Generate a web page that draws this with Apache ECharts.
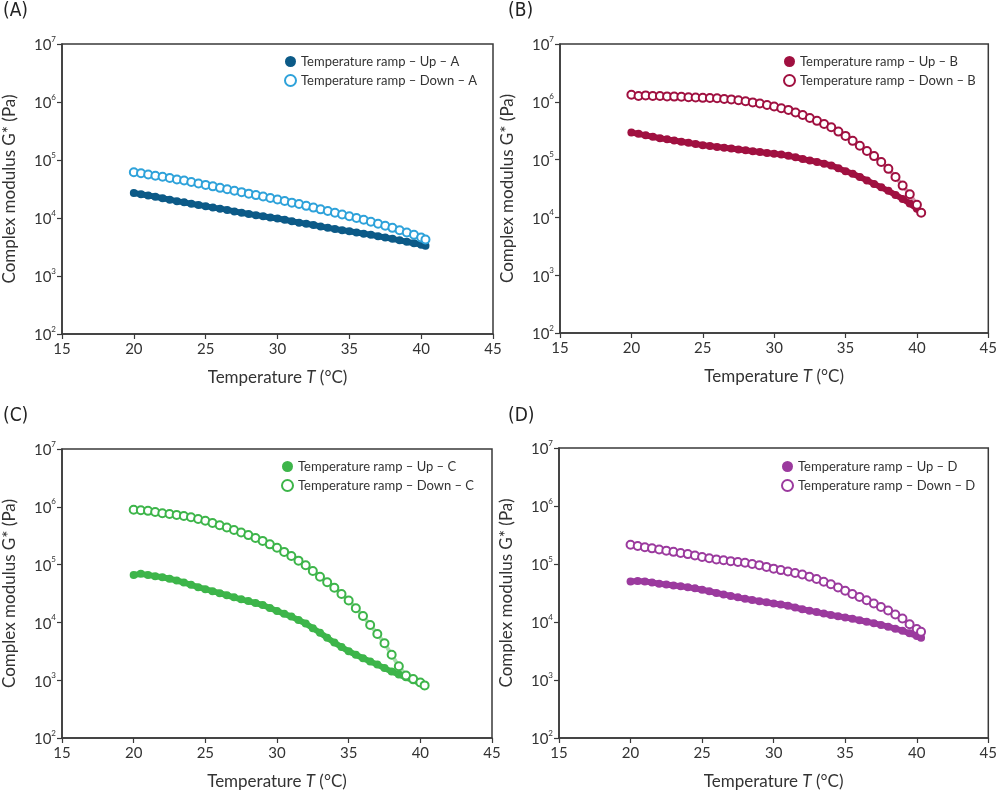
<!DOCTYPE html>
<html>
<head>
<meta charset="utf-8">
<script src="https://cdn.jsdelivr.net/npm/echarts@6/dist/echarts.min.js"></script>
<style>
html,body{margin:0;padding:0;background:#fff;}
#c{width:1000px;height:800px;}
</style>
</head>
<body>
<div id="c"></div>
<script>
// Temperature (°C), shared by all series
var temps = [20,20.5,21,21.5,22,22.5,23,23.5,24,24.5,25,25.5,26,26.5,27,27.5,28,28.5,29,29.5,30,30.5,31,31.5,32,32.5,33,33.5,34,34.5,35,35.5,36,36.5,37,37.5,38,38.5,39,39.5,40,40.3];

// Complex modulus G* (Pa)
var upA = [26900,25700,24500,23200,21900,20700,19500,18600,17600,16800,16000,15100,14500,13800,13000,12300,11700,11200,10700,10200,9800,9330,8810,8320,7940,7590,7160,6760,6460,6170,5890,5620,5370,5130,4840,4620,4370,4120,3890,3670,3470,3310];
var downA = [61700,58900,56200,53700,51300,49000,46200,44200,41700,39400,37200,35100,33100,31300,29500,27900,26300,24800,23400,22100,20900,19700,18400,17400,16200,15100,14100,13200,12300,11500,10700,10000,9330,8610,7940,7330,6760,6170,5620,5130,4620,4270];

var upB = [295000,279000,263000,248000,234000,224000,214000,204000,195000,186000,178000,172000,166000,160000,155000,150000,145000,140000,135000,130000,126000,122000,116000,110000,102000,96600,91200,85100,79400,70800,63100,56900,50100,43700,38000,33100,28800,24500,20900,17400,14100,12000];
var downB = [1320000,1260000,1290000,1260000,1260000,1240000,1230000,1220000,1200000,1190000,1170000,1160000,1150000,1120000,1100000,1060000,1020000,977000,933000,881000,832000,776000,724000,653000,589000,525000,468000,412000,363000,305000,257000,211000,174000,141000,115000,91200,69200,50100,35500,25100,16600,12000];

var upC = [66100,69200,66100,63100,60300,56900,53100,49000,44700,40700,37600,34700,32000,29500,27200,25100,23400,21600,20000,17800,15800,14100,12600,11000,9550,7940,6610,5430,4470,3760,3160,2750,2400,2110,1860,1620,1410,1260,1120,1000,891,794];
var downC = [891000,871000,851000,813000,776000,750000,724000,692000,661000,617000,575000,525000,479000,437000,398000,359000,324000,288000,257000,224000,195000,166000,141000,117000,97700,77600,61700,49500,39800,30900,24000,17600,12900,9020,6310,4370,2750,1740,1200,1050,912,813];

var upD = [50100,50700,50100,47900,45700,44200,42700,41200,39800,38000,35900,33900,31600,29900,28200,26600,25100,24000,22900,21900,20900,20000,19100,17800,16600,15700,14800,14000,13200,12600,12000,11400,10700,10100,9550,8910,8320,7670,7080,6380,5750,5370];
var downD = [214000,204000,195000,186000,178000,170000,162000,155000,148000,140000,132000,126000,120000,116000,112000,108000,105000,100000,95500,89100,83200,78500,74100,70000,66100,60300,55000,49500,44700,39400,34700,30500,26900,23700,20900,18200,15800,13500,11500,9120,7590,6760];

var panelLabels = ['(A)','(B)','(C)','(D)'];
var panelKeys = ['A','B','C','D'];
var upColors = ['#0c5a87','#a01040','#3db54a','#9b3a9e'];
var downColors = ['#2ea2da','#a01040','#3db54a','#9b3a9e'];
var upData = [upA, upB, upC, upD];
var downData = [downA, downB, downC, downD];
var xTicks = {min:15, max:45, interval:5};
var yRange = {min:100, max:10000000};

var FONT = 'Lato, "Open Sans", sans-serif';
var grids = [
  {left:60, top:44, width:433, height:290},
  {left:560, top:44, width:432, height:289},
  {left:60, top:449, width:432, height:289},
  {left:559, top:448, width:431, height:290}
];
var labelPos = [[3,2],[508,2],[3,407],[508,407]];
var legendPos = [[279,50],[778,50],[276,455],[776,455]];

var option = {
  animation:false,
  backgroundColor:'#fff',
  grid: grids.map(function(g){return Object.assign({show:true, borderColor:'#3a3a3a', borderWidth:1.5, containLabel:false}, g);}),
  xAxis: grids.map(function(g,i){return {
    gridIndex:i, type:'value', min:xTicks.min, max:xTicks.max, interval:xTicks.interval,
    axisLine:{show:true, onZero:false, lineStyle:{color:'#3a3a3a', width:1.5}},
    axisTick:{show:true, length:5, lineStyle:{color:'#3a3a3a', width:1.2}},
    splitLine:{show:false},
    axisLabel:{color:'#333', fontSize:15, fontFamily:FONT, margin:8},
    name:'Temperature {i|T} (°C)', nameLocation:'middle', nameGap:35,
    nameTextStyle:{color:'#333', fontSize:17, fontFamily:FONT, rich:{i:{fontStyle:'italic', fontSize:17, fontFamily:FONT, color:'#333'}}}
  };}),
  yAxis: grids.map(function(g,i){return {
    gridIndex:i, type:'log', logBase:10, min:yRange.min, max:yRange.max,
    axisLine:{show:true, lineStyle:{color:'#3a3a3a', width:1.5}},
    axisTick:{show:true, length:5, lineStyle:{color:'#3a3a3a', width:1.2}},
    minorTick:{show:false},
    splitLine:{show:false},
    axisLabel:{
      margin:6,
      formatter:function(v){var e=Math.round(Math.log(v)/Math.LN10); return '{b|10}{s|'+e+'}';},
      rich:{
        b:{fontSize:15, fontFamily:FONT, color:'#333', lineHeight:18, verticalAlign:'bottom'},
        s:{fontSize:8, fontFamily:FONT, color:'#333', verticalAlign:'top', lineHeight:18}
      }
    },
    name:'Complex modulus G* (Pa)', nameLocation:'middle', nameGap:44, nameRotate:90,
    nameTextStyle:{color:'#333', fontSize:17, fontFamily:FONT}
  };}),
  legend: panelKeys.map(function(k,i){return {
    orient:'vertical', left:legendPos[i][0], top:legendPos[i][1],
    itemWidth:11, itemHeight:11, itemGap:6,
    textStyle:{color:'#333', fontSize:13, fontFamily:FONT},
    data:[
      {name:'Temperature ramp – Up – '+k, icon:'circle'},
      {name:'Temperature ramp – Down – '+k, icon:'emptyCircle'}
    ]
  };}),
  graphic: panelLabels.map(function(t,i){return {
    type:'text', left:labelPos[i][0], top:labelPos[i][1],
    style:{text:t, fontSize:19, fontFamily:'"DejaVu Sans Condensed", "Liberation Sans Narrow", sans-serif', fill:'#222'}
  };}),
  series: []
};

panelKeys.forEach(function(k,i){
  option.series.push({
    name:'Temperature ramp – Up – '+k, type:'line', xAxisIndex:i, yAxisIndex:i,
    data: temps.map(function(t,j){return [t, upData[i][j]];}),
    symbol:'circle', symbolSize:8, showAllSymbol:true,
    lineStyle:{color:upColors[i], width:6},
    itemStyle:{color:upColors[i]}, z:2
  });
  option.series.push({
    name:'Temperature ramp – Down – '+k, type:'line', xAxisIndex:i, yAxisIndex:i,
    data: temps.map(function(t,j){return [t, downData[i][j]];}),
    symbol:'emptyCircle', symbolSize:8, showAllSymbol:true,
    lineStyle:{color:downColors[i], width:4, opacity:0.45},
    itemStyle:{color:downColors[i], borderColor:downColors[i], borderWidth:1.6}, z:3
  });
});

var chart = echarts.init(document.getElementById('c'), null, {renderer:'canvas'});
chart.setOption(option);
</script>
</body>
</html>
